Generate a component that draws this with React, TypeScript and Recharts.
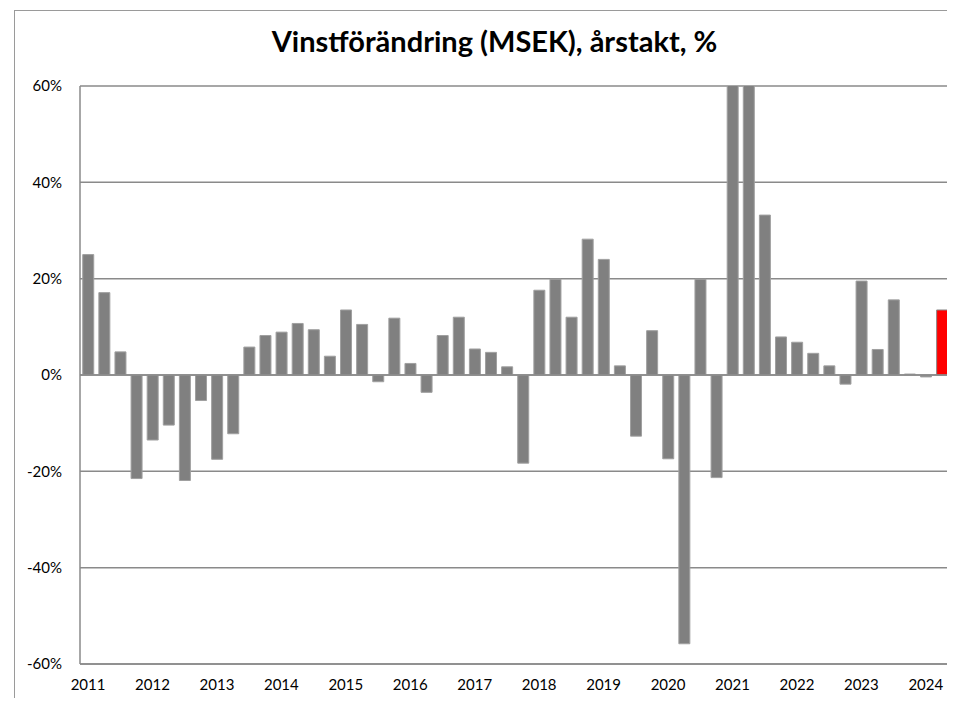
import { BarChart, Bar, XAxis, YAxis, CartesianGrid, Cell, ReferenceLine } from "recharts";

// Quarterly profit change, 2011Q1 .. 2024Q2 (percent)
const years = ["2011", "2012", "2013", "2014", "2015", "2016", "2017", "2018", "2019", "2020", "2021", "2022", "2023", "2024"];
const quarters = ["Q1", "Q2", "Q3", "Q4"];

const values = [
  25, 17.1, 4.8, -21.5,
  -13.5, -10.4, -21.9, -5.3,
  -17.5, -12.2, 5.8, 8.2,
  8.9, 10.7, 9.4, 3.9,
  13.5, 10.5, -1.4, 11.8,
  2.4, -3.6, 8.2, 12.0,
  5.4, 4.7, 1.7, -18.3,
  17.6, 19.9, 12.0, 28.2,
  24.0, 1.9, -12.7, 9.2,
  -17.4, -55.8, 19.9, -21.3,
  85, 110, 33.2, 7.9,
  6.8, 4.5, 1.9, -1.9,
  19.5, 5.3, 15.6, 0.2,
  -0.4, 13.5,
];

const yTicks = [-60, -40, -20, 0, 20, 40, 60];

const data = values.map((v, i) => ({
  period: years[Math.floor(i / 4)] + quarters[i % 4],
  value: v,
}));

const xTicks = data.filter((d) => d.period.endsWith("Q1")).map((d) => d.period);

const font = "Lato, 'Open Sans', sans-serif";

export default function App() {
  return (
    <div style={{ position: "relative", width: 955, height: 706, margin: -8, background: "#fff", overflow: "hidden", fontFamily: font }}>
      {/* outer frame lines */}
      <div style={{ position: "absolute", left: 0, top: 0, width: 2, height: 706, background: "#9a9a9a" }} />
      <div style={{ position: "absolute", left: 14, top: 10, width: 960, height: 720, border: "1px solid #9a9a9a" }} />
      <div
        style={{
          position: "absolute",
          left: 0,
          width: 955,
          top: 23,
          textAlign: "center",
          fontSize: 29,
          fontWeight: 700,
          color: "#000",
          paddingLeft: 34,
          boxSizing: "border-box",
        }}
      >
        Vinstförändring (MSEK), årstakt, %
      </div>
      <div style={{ position: "absolute", left: 0, top: 0 }}>
        <BarChart
          width={955}
          height={706}
          data={data}
          margin={{ top: 86, right: 5, left: 0, bottom: 12 }}
          barCategoryGap="17%"
        >
          <CartesianGrid vertical={false} stroke="#8a8a8a" strokeWidth={1.5} />
          <XAxis
            dataKey="period"
            ticks={xTicks}
            interval={0}
            tickFormatter={(p: string) => p.slice(0, 4)}
            tickLine={false}
            axisLine={{ stroke: "#8a8a8a", strokeWidth: 1.5 }}
            tick={{ fill: "#000", fontSize: 15, fontFamily: font }}
            tickMargin={9}
            height={30}
          />
          <YAxis
            domain={[-60, 60]}
            ticks={yTicks}
            allowDataOverflow
            tickFormatter={(v: number) => `${v}%`}
            tickLine={false}
            axisLine={{ stroke: "#8a8a8a", strokeWidth: 1.5 }}
            tick={{ fill: "#000", fontSize: 15, fontFamily: font }}
            tickMargin={12}
            width={80}
          />
          <ReferenceLine y={0} stroke="#8a8a8a" strokeWidth={1.5} />
          <Bar dataKey="value" isAnimationActive={false}>
            {data.map((d, i) => (
              <Cell
                key={d.period}
                fill={i === data.length - 1 ? "#ff0000" : "#808080"}
                stroke={i === data.length - 1 ? "#8a8a8a" : "#a0a0a0"}
                strokeWidth={1}
              />
            ))}
          </Bar>
        </BarChart>
      </div>
    </div>
  );
}
